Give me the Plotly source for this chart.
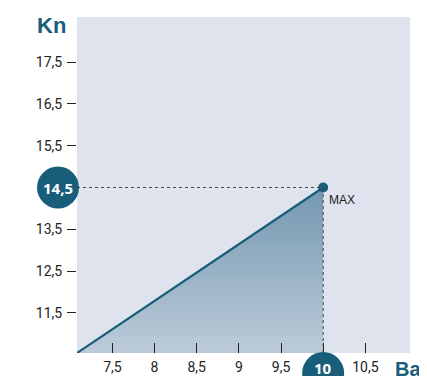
import plotly.graph_objects as go

# データ
x_values = [7.08, 10]
y_values = [10.54, 14.5]
x_ticks = [7.5, 8, 8.5, 9, 9.5, 10, 10.5]
y_ticks = [11.5, 12.5, 13.5, 14.5, 15.5, 16.5, 17.5]
x_range = [7.08, 11.03]
y_range = [10.54, 18.58]
max_label = "MAX"

TEAL = "#185d7a"
DARK = "#222222"
TICK_FONT = "Liberation Sans Narrow, Roboto, Arial Narrow, sans-serif"

x_max = x_values[-1]
y_max = y_values[-1]

# ページ本体の余白 (8px) を差し引いたサイズ
BODY = 8
PLOT_W = 333
PLOT_H = 336

fig = go.Figure()

# 三角形の塗りつぶし（グラデーション）
fig.add_trace(
    go.Scatter(
        x=x_values,
        y=y_values,
        mode="lines",
        line=dict(color=TEAL, width=2.2),
        fill="tozeroy",
        fillgradient=dict(
            type="vertical",
            start=y_range[0],
            stop=y_max,
            colorscale=[[0, "#bccbd9"], [1, "#7398b0"]],
        ),
        showlegend=False,
        hoverinfo="skip",
    )
)

# 点線
fig.add_shape(
    type="line", x0=x_range[0], x1=x_max, y0=y_max, y1=y_max,
    line=dict(color="#444", width=1, dash="dot"), layer="above",
)
fig.add_shape(
    type="line", x0=x_max, x1=x_max, y0=y_range[0], y1=y_max,
    line=dict(color="#444", width=1, dash="dot"), layer="above",
)

# 最大点
fig.add_trace(
    go.Scatter(
        x=[x_max], y=[y_max], mode="markers",
        marker=dict(color=TEAL, size=10),
        showlegend=False, hoverinfo="skip",
    )
)

# 軸上の丸いラベル（紙座標で配置）
px_x = 1 / PLOT_W
px_y = 1 / PLOT_H
badge_x_paper = -19 * px_x
badge_y_paper = (y_max - y_range[0]) / (y_range[1] - y_range[0])
badge2_x_paper = (x_max - x_range[0]) / (x_range[1] - x_range[0])
badge2_y_paper = -20 * px_y

for bx, by, label, text_shift in [
    (badge_x_paper, badge_y_paper, "14,5", 0),
    (badge2_x_paper, badge2_y_paper, "10", 5),
]:
    fig.add_shape(
        type="circle", xref="paper", yref="paper",
        xsizemode="pixel", ysizemode="pixel",
        xanchor=bx, yanchor=by, x0=-21, x1=21, y0=-21, y1=21,
        fillcolor=TEAL, line=dict(width=0), layer="above",
    )
    fig.add_annotation(
        xref="paper", yref="paper", x=bx, y=by, text=f"<b>{label}</b>",
        showarrow=False, xanchor="center", yanchor="middle", yshift=text_shift,
        font=dict(size=15, color="white", family="Open Sans"),
    )

fig.add_annotation(
    x=x_max, y=y_max, text=max_label, showarrow=False,
    xanchor="left", yanchor="top", xshift=4, yshift=-3,
    font=dict(size=12, color=DARK, family="Liberation Sans"),
)

# 軸タイトル
fig.add_annotation(
    xref="paper", yref="paper", x=-0.078, y=0.975, text="<b>Kn</b>",
    showarrow=False, xanchor="center", yanchor="middle",
    font=dict(size=22, color=TEAL, family="Liberation Sans"),
)
fig.add_annotation(
    xref="paper", yref="paper", x=0.95, y=-0.048, text="<b>Ba</b>",
    showarrow=False, xanchor="left", yanchor="middle",
    font=dict(size=20, color=TEAL, family="Liberation Sans"),
)

fig.update_layout(
    width=427 - BODY,
    height=376 - BODY,
    margin=dict(l=77 - BODY, r=17, t=17 - BODY, b=23),
    paper_bgcolor="white",
    plot_bgcolor="#dfe3ee",
    separators=", ",
    xaxis=dict(
        range=x_range, showgrid=False, zeroline=False, showline=False,
        automargin=False,
        tickvals=x_ticks,
        ticktext=["7,5", "8", "8,5", "9", "9,5", "", "10,5"],
        ticks="inside", ticklen=10, tickwidth=1.3, tickcolor=DARK,
        tickfont=dict(size=14, color=DARK, family=TICK_FONT),
        ticklabelstandoff=4,
    ),
    yaxis=dict(
        range=y_range, showgrid=False, zeroline=False, showline=False,
        automargin=False,
        tickvals=y_ticks,
        ticktext=["11,5", "12,5", "13,5", "", "15,5", "16,5", "17,5"],
        ticks="outside", ticklen=9, tickwidth=1.3, tickcolor=DARK,
        tickfont=dict(size=14, color=DARK, family=TICK_FONT),
        ticklabelstandoff=2,
    ),
)

fig.write_html("out.html")
